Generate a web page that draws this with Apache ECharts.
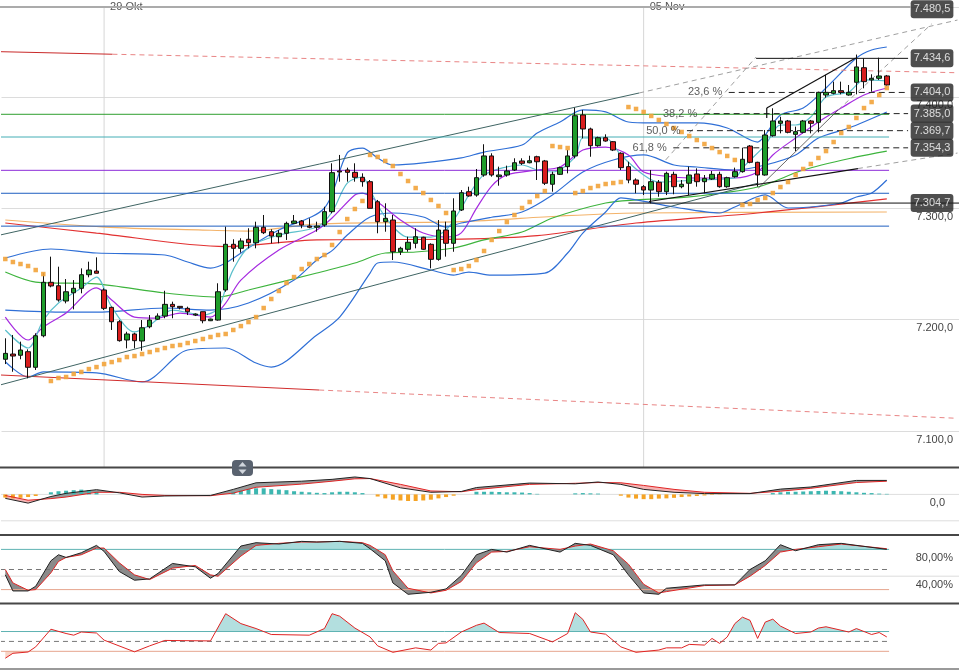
<!DOCTYPE html>
<html><head><meta charset="utf-8">
<script src="https://cdn.jsdelivr.net/npm/echarts@6/dist/echarts.min.js"></script>
<style>html,body{margin:0;padding:0;background:#fff}#c{width:959px;height:670px}</style>
</head><body><div id="c"></div>
<script>
// ---------- DATA ----------
const slotCount = 126;
const xTickLabels = [[13,'29 Okt'],[84,'05 Nov']];
// candles: [open, close, low, high]
const candles = [
[7164.5,7169.8,7160.2,7183.3],[7169.2,7167.4,7153.3,7186.3],[7168.1,7172.8,7164.5,7180.3],[7171.3,7157.3,7147.4,7173.4],
[7157.3,7185.6,7154.9,7187.8],[7185.6,7233.6,7184.2,7241.7],[7233.6,7230.3,7229.1,7256.6],[7230.5,7217.7,7216.2,7247.6],
[7216.8,7225.1,7214.7,7236.5],[7224.2,7228.2,7209.3,7235.6],[7228.2,7240.4,7223.7,7246.1],[7240.4,7244.6,7238.1,7252.1],
[7243.7,7241.7,7241.7,7256.0],[7226.7,7210.2,7208.7,7228.2],[7211.1,7198.2,7190.8,7211.7],[7198.2,7181.2,7180.3,7199.7],
[7181.8,7187.2,7174.3,7189.2],[7187.2,7181.2,7174.3,7188.3],[7180.9,7192.8,7172.2,7199.7],[7193.7,7199.7,7192.3,7204.2],
[7200.4,7203.3,7199.7,7205.7],[7203.3,7213.8,7201.3,7226.0],[7213.8,7211.7,7201.3,7216.2],[7212.0,7210.8,7209.3,7212.3],
[7210.2,7207.2,7204.2,7211.7],[7204.2,7205.1,7203.3,7205.7],[7207.2,7199.1,7196.8,7207.2],[7199.1,7200.6,7198.8,7200.9],
[7199.7,7225.1,7199.1,7232.7],[7226.7,7267.7,7225.1,7283.5],[7267.7,7264.1,7252.1,7272.2],[7264.1,7270.7,7260.2,7273.1],
[7272.2,7269.1,7264.1,7282.1],[7269.1,7283.0,7264.1,7288.0],[7283.0,7278.1,7276.9,7294.0],[7279.0,7275.1,7268.6,7281.2],
[7274.5,7277.6,7268.6,7280.5],[7277.6,7286.5,7271.6,7288.0],[7286.5,7288.6,7285.9,7294.0],[7288.6,7285.0,7282.1,7289.5],
[7284.1,7283.0,7282.1,7291.0],[7283.0,7284.1,7279.0,7288.0],[7285.0,7297.0,7283.5,7301.4],[7297.0,7332.0,7295.5,7340.4],
[7333.5,7332.6,7323.9,7347.9],[7334.4,7332.3,7323.9,7336.5],[7332.3,7327.8,7323.9,7340.4],[7327.8,7323.9,7319.4,7331.4],
[7323.9,7300.0,7300.0,7325.4],[7305.9,7288.0,7277.6,7307.5],[7288.0,7291.0,7279.0,7304.5],[7289.5,7261.0,7253.6,7294.0],
[7261.0,7264.1,7258.1,7265.5],[7263.2,7269.5,7261.0,7274.5],[7268.6,7274.5,7264.1,7282.1],[7274.0,7263.2,7262.6,7274.5],
[7267.7,7254.2,7246.1,7268.6],[7254.2,7280.5,7253.0,7289.5],[7280.5,7268.6,7256.6,7288.0],[7268.6,7297.6,7261.0,7309.0],
[7298.5,7314.0,7297.6,7316.4],[7314.9,7311.1,7310.4,7319.4],[7311.9,7327.5,7310.4,7335.3],[7329.9,7347.0,7328.4,7357.5],
[7347.0,7329.9,7328.4,7349.4],[7328.4,7329.9,7320.3,7337.4],[7329.9,7333.5,7328.4,7338.3],[7334.4,7340.9,7333.5,7344.9],
[7342.5,7340.4,7338.9,7344.9],[7340.9,7342.7,7340.4,7347.2],[7346.3,7341.8,7325.4,7347.2],[7342.5,7322.5,7320.9,7343.4],
[7321.6,7330.5,7314.9,7332.9],[7330.5,7336.5,7329.9,7337.4],[7337.4,7347.0,7331.4,7352.3],[7347.0,7383.1,7344.9,7390.3],
[7383.8,7371.2,7362.8,7388.3],[7371.2,7356.2,7346.3,7372.4],[7356.2,7363.4,7355.3,7364.3],[7363.4,7360.4,7359.8,7366.4],
[7359.8,7352.3,7351.4,7360.4],[7349.4,7336.5,7334.4,7350.3],[7337.4,7325.4,7322.5,7341.8],[7325.4,7321.6,7313.5,7326.9],
[7319.4,7316.4,7311.9,7320.9],[7316.4,7323.9,7304.5,7334.4],[7323.4,7314.9,7310.4,7325.4],[7314.9,7331.4,7311.9,7332.9],
[7330.5,7319.4,7312.6,7332.9],[7319.4,7321.6,7318.0,7325.4],[7322.5,7329.9,7311.9,7337.4],[7330.8,7323.9,7319.4,7335.9],
[7323.9,7326.9,7313.5,7329.9],[7326.3,7330.5,7325.4,7333.5],[7330.5,7319.4,7318.5,7332.9],[7319.4,7327.5,7318.5,7328.4],
[7328.4,7332.9,7327.5,7336.5],[7332.9,7344.0,7332.0,7354.4],[7355.9,7341.3,7340.4,7356.8],[7341.3,7329.9,7319.4,7341.8],
[7329.9,7365.8,7329.3,7370.3],[7365.2,7378.4,7364.3,7389.8],[7376.3,7378.4,7367.3,7382.2],[7378.4,7368.2,7367.3,7379.3],
[7366.4,7368.8,7351.4,7373.3],[7368.2,7378.4,7367.3,7379.3],[7378.4,7376.3,7367.3,7379.3],[7377.2,7404.1,7368.2,7404.7],
[7401.7,7404.1,7399.3,7419.7],[7403.2,7405.6,7402.3,7413.7],[7405.6,7404.1,7402.3,7413.7],[7401.7,7404.1,7401.1,7410.7],
[7413.1,7426.9,7402.3,7438.0],[7426.2,7413.7,7407.7,7434.6],[7415.2,7416.7,7404.7,7420.3],[7416.7,7418.8,7415.2,7435.2],
[7418.8,7410.7,7410.1,7419.7]
];
// parabolic SAR, one per candle
const sar = [7254.5,7251.8,7250.0,7248.2,7244.6,7241.0,
7145.0,7147.7,7148.6,7151.3,7153.1,7155.7,7157.5,7160.2,7162.0,7163.8,7166.5,7167.4,7169.2,7171.0,7172.8,7174.6,7176.4,7177.3,7179.1,7180.9,
7182.7,7184.5,7186.3,7187.2,7190.8,7194.3,7197.9,7202.4,7210.5,7218.6,7225.8,7233.0,7238.3,7245.5,7250.0,7254.5,7258.1,7267.1,7278.7,7290.4,7299.4,7306.6,
7347.9,7346.1,7342.5,7338.0,7330.8,7324.5,7318.2,7313.7,7307.5,7302.1,7295.8,
7244.6,7245.5,7248.2,7253.6,7261.7,7271.6,7279.6,7287.7,7294.0,7300.3,7305.7,7311.0,7315.5,
7355.9,7355.0,7354.1,
7313.7,7315.5,7318.2,7320.0,7321.8,7322.7,7323.6,
7390.9,7389.2,7386.5,7382.9,7379.3,7375.7,7372.1,7368.5,7364.9,7361.3,7357.7,7354.1,7350.5,7347.0,7343.4,
7303.0,7303.9,7307.5,7309.3,7313.7,7319.1,7323.6,7329.9,7335.3,7339.8,7345.2,7351.4,7359.5,7367.6,7373.0,7381.1,7390.0,7395.4,7401.7,7408.0];
// moving averages / bands as [candle index, price]
const maFast = [[0,7190.8],[3,7174.6],[5,7199.7],[7,7215.0],[10,7228.5],[12,7238.3],[14,7211.4],[17,7189.0],[19,7195.2],[22,7208.7],[26,7204.2],[28,7210],[29,7228],[30,7245],[32,7265],[36,7276.0],[41,7283.2],[43,7296.7],[45,7322.7],[47,7328.1],[48,7316.4],[50,7292.2],[53,7274.2],[56,7274.2],[58,7280.5],[60,7300],[61,7312],[63,7329.9],[68,7338.9],[70,7334.4],[72,7332.6],[75,7346.1],[76,7363.1],[79,7363.1],[81,7347.9],[84,7329.9],[86,7323.6],[91,7325.4],[96,7327.2],[97,7336.2],[100,7356.8],[102,7374.8],[104,7374.8],[106,7382.0],[108,7399.9],[111,7404.4],[113,7415.2],[116,7414.3]];
const maMid = [[0,7202.4],[3,7181.8],[5,7193.5],[8,7206.0],[12,7228.5],[14,7217.7],[17,7202.4],[20,7201.5],[23,7206.0],[27,7202.4],[29,7215],[31,7235.6],[36,7262.6],[41,7280.5],[43,7291.3],[46,7312.0],[47,7313.7],[49,7305.7],[52,7289.5],[55,7277.8],[58,7274.2],[60,7278],[62,7300],[64,7320],[66,7330],[70,7334.4],[73,7337.1],[76,7352.3],[79,7355.0],[82,7347.9],[84,7332.6],[88,7328.1],[91,7327.2],[96,7327.2],[99,7332.6],[101,7347.9],[104,7363.1],[107,7377.5],[110,7390.0],[113,7401.7],[116,7408.0]];
const bbUpper = [[0,7255.4],[6,7263.5],[12,7259.9],[21,7258.1],[24,7251.8],[27,7246.4],[29,7250.9],[33,7268.9],[36,7280.5],[42,7300.3],[45,7349.7],[47,7354.1],[49,7345.2],[51,7338.9],[55,7340.7],[60,7345.2],[63,7350.5],[68,7356.8],[70,7367.6],[73,7377.5],[76,7388.3],[79,7386.5],[82,7377.5],[85,7376.6],[91,7376.6],[95,7372.1],[99,7359.5],[100,7365.8],[102,7383.8],[105,7390.0],[108,7408.0],[112,7434.9],[114,7442.1],[116,7444.8]];
const bbMid = [[0,7208.7],[8,7206.9],[12,7206.9],[21,7210.5],[27,7208.7],[32,7215.0],[38,7235.6],[41,7253.6],[43,7262],[45,7276],[48,7292.2],[51,7295.8],[55,7292.2],[58,7283.2],[60,7286.8],[64,7292],[68,7296.7],[72,7312.0],[76,7332.6],[80,7343.4],[84,7347.9],[88,7338.9],[91,7337.1],[96,7334.4],[100,7338.9],[104,7347.9],[107,7363.1],[111,7372.1],[116,7386.5]];
const bbLower = [[0,7162.3],[3,7148.6],[5,7153.1],[12,7152.2],[18,7144.1],[24,7172.8],[29,7174.6],[33,7161.1],[35,7157.5],[41,7186.3],[44,7202.4],[48,7241.9],[49,7250.9],[51,7251.8],[56,7244.6],[59,7240.1],[61,7242.8],[64,7240.1],[71,7241.9],[74,7259.9],[76,7277.8],[79,7296.7],[81,7309.3],[83,7307.5],[88,7301.2],[94,7295.8],[96,7301.2],[100,7312.0],[103,7300.3],[106,7301.2],[110,7304.8],[112,7310.2],[114,7313.7],[116,7325.4]];
const maGreen = [[0,7242.8],[4,7233.8],[12,7232.1],[21,7224.0],[28,7220.4],[32,7226.7],[41,7241.9],[46,7250.9],[50,7259.9],[54,7260.8],[59,7264.4],[63,7271.6],[68,7278.7],[72,7291.3],[79,7304.8],[83,7307.5],[90,7310.2],[99,7319.1],[105,7334.4],[112,7346.1],[116,7351.4]];
const maRed = [[0,7286.8],[12,7277.8],[29,7265.7],[41,7271.6],[60,7272.4],[70,7275.5],[83,7286.8],[99,7295.8],[116,7308.4]];
const maOrange = [[0,7289.5],[13,7283.2],[26,7280.5],[32,7279.6],[41,7285.9],[60,7288.0],[73,7293.1],[83,7295.8],[116,7296.7]];
// horizontal levels
const levelGreen = 7384.4, levelTeal = 7364.0, levelPurple = 7334.1, levelBlue1 = 7313.5, levelBlue2 = 7284.0;
const fibHigh = 7434.6, fibLow = 7304.7;
const fibNames = ['23,6 %','38,2 %','50,0 %','61,8 %'];
const fibValues = [7404.0, 7385.0, 7369.7, 7354.3];
const fibStartIdx = [95.2, 91.9, 89.7, 87.9];
// price tags: [shown value, price where the tag sits]
const priceTags = [[7480.5,7478.6],[7434.6,7434.6],[7404.0,7404.0],[7385.0,7385.0],[7369.7,7369.7],[7354.3,7354.3],[7304.7,7304.7]];
// trend lines [index, price]
const redTopSolid = [[-0.7,7440.6],[14.1,7438.3]];
const redTopDash = [[14.1,7438.3],[125.3,7421.7]];
const redBotSolid = [[-0.7,7150.4],[41.3,7136.9]];
const redBotDash = [[41.3,7136.9],[125.3,7111.5]];
const chanUpper = [[-0.7,7276.0],[83.4,7403.5]];
const chanUpperExt = [[83.4,7403.5],[125.3,7469.0]];
const chanLower = [[-0.7,7141.4],[99.1,7322.7]];
const supportLine = [[84.7,7306.1],[112.2,7335.7]];
const supportExt = [[112.2,7335.7],[125.3,7349.6]];
const wedgeUpper = [[100.2,7390.0],[111.9,7434.9]];
const wedgeTick = [[100.2,7390.0],[100.2,7381.0]];
const wedgeLower = [[99.1,7318.2],[109.6,7388.3]];
const wedgeLowerExt = [[109.6,7388.3],[121.9,7465.5]];
const fanLine = [[86.9,7343.4],[98.8,7435.8]];
// MACD
const macdIdx = [0,3,6,8,12,15,18,21,27,30,33,39,43,46,48,52,56,60,62,69,75,78,81,84,88,92,98,102,106,112,116];
const macdLine = [-1.5,-3.3,-0.8,0.4,1.8,0.6,-1.0,-0.6,-0.4,1.9,4.4,5.0,5.7,6.6,6.0,2.5,0.8,1.1,2.6,4.3,4.0,4.7,3.8,1.9,0.8,0.3,0.3,2.0,2.8,5.3,5.3];
const macdSignal = [-0.4,-2.2,-1.6,-1.0,0.8,0.8,0,-0.4,-0.5,0.5,2.7,3.9,5.0,5.9,6.0,3.8,1.3,1.0,1.8,3.8,4.2,4.5,4.4,3.4,1.9,0.8,0.4,1.2,2.3,4.5,5.0];
const macdHist = [-1.2,-1.5,-1.3,-1.0,-0.6,0,0.8,1.2,1.4,1.6,1.8,1.6,1.0,
0,0,0,0,0,0,0,0,0,0,0,0,0,0,0,0,0,
1.0,1.5,2.0,2.3,2.3,2.0,1.8,1.6,1.2,1.0,0.8,0.6,0.5,0.8,1.0,1.0,0.8,0.5,0,
-0.8,-1.5,-2.0,-2.3,-2.5,-2.5,-2.3,-2.0,-1.5,-1.0,-0.5,0,0,
1.0,1.0,1.0,0.9,0.8,0.8,0.7,0.5,0.2,0,0,0,0,0.4,0.5,0.4,0.3,0,0,
-0.5,-1.2,-1.6,-1.8,-1.8,-1.6,-1.5,-1.3,-1.0,-0.8,-0.6,-0.4,-0.2,-0.1,0,0,0,0,0,0,
0.5,0.8,1.0,1.0,1.1,1.2,1.3,1.4,1.3,1.2,1.0,0.8,0.6,0.5,0.3,0.2];
// Stochastic
const stoIdx = [0,1,3,4,6,7,8,10,12,13,15,17,19,22,25,27,28,31,33,36,39,41,44,47,48,50,51,53,56,58,60,62,64,66,69,73,75,77,80,82,84,86,87,92,96,98,100,102,104,107,110,116];
const stoK = [42,18,18,25,63,72,68,75,86,77,47,34,36,59,54,37,44,85,90,88,92,91,92,89,81,63,30,13,16,21,41,72,80,76,86,76,89,86,72,42,15,13,22,27,27,50,63,87,78,87,89,80];
const stoD = [50,30,19,20,45,62,68,72,82,82,60,42,35,52,56,42,40,70,86,89,91,91,92,90,86,72,48,22,15,19,32,60,76,77,84,80,85,88,78,58,28,15,17,26,27,40,56,76,80,84,88,81];
// lower oscillator
const rsiIdx = [0,1,3,4,6,8,9,10,12,13,17,19,21,27,29,31,33,35,40,42,43,44,46,48,49,51,54,56,57,58,60,62,63,65,69,72,74,75,76,77,79,81,83,86,87,89,90,92,93,94,95,96,97,98,99,100,101,102,104,106,107,108,111,112,114,115,116];
const rsiVal = [16,26,28.6,39,74.6,66,62.6,69,67,52.6,29,41,52,51,106,86,76,64,62.6,76,106,101,77,59,41,28,37,32.6,46,47,69,82.6,87,68,66,49,66,108,94.6,69,64.6,39,28,32.6,37,37,44,42.6,56,46,59,86,99,92.6,56,89,95,81,66,69,77,79.6,69,76,64,68,59];

// ---------- BUILD ----------
const FONT = "'Liberation Sans', Arial, sans-serif";
const categories = Array.from({length: slotCount}, (_, i) => {
  const t = xTickLabels.find(d => d[0] === i); return t ? t[1] : '';
});
function fmt(v){ const s = v.toFixed(1).split('.'); return s[0].replace(/\B(?=(\d{3})+(?!\d))/g,'.') + ',' + s[1]; }
const VX = {min:-0.5, max:slotCount-0.5};
const LASTX = 116.3, FIBEND = 118.8, FULLX = 125.5;

function seg(pts, color, width, type, xi, yi, z){
  return {type:'line', xAxisIndex:xi===undefined?1:xi, yAxisIndex:yi||0, data:pts, symbol:'none', silent:true,
    z:z||4, lineStyle:{color, width, type:type||'solid'}};
}
function curve(pts, color, width, smooth){
  return {type:'line', xAxisIndex:1, yAxisIndex:0, data:pts, symbol:'none', silent:true, z:3,
    smooth: smooth===undefined?0.3:smooth, lineStyle:{color, width}};
}
function densify(xs, a, b){
  const X=[], A=[], B=[];
  for (let i=0;i<xs.length;i++){
    if (i>0){
      const d0 = a[i-1]-b[i-1], d1 = a[i]-b[i];
      if (d0*d1 < 0){
        const t = d0/(d0-d1);
        X.push(xs[i-1]+t*(xs[i]-xs[i-1]));
        const v = a[i-1]+t*(a[i]-a[i-1]);
        A.push(v); B.push(v);
      }
    }
    X.push(xs[i]); A.push(a[i]); B.push(b[i]);
  }
  return {X, A, B};
}
function fillAbove(xi, yi, xs, a, b, color){
  const d = densify(xs, a, b);
  return {type:'custom', xAxisIndex:xi, yAxisIndex:yi, data:[[0,0]], silent:true, z:2,
    renderItem:(params, api) => {
      const pts = [];
      for (let i=0;i<d.X.length;i++) pts.push(api.coord([d.X[i], Math.max(d.A[i], d.B[i])]));
      for (let i=d.X.length-1;i>=0;i--) pts.push(api.coord([d.X[i], d.B[i]]));
      return {type:'polygon', shape:{points:pts}, style:{fill:color}};
    }};
}
function fillBetween(xi, yi, xs, a, b, color){
  return {type:'custom', xAxisIndex:xi, yAxisIndex:yi, data:[[0,0]], silent:true, z:2,
    renderItem:(params, api) => {
      const pts = [];
      for (let i=0;i<xs.length;i++) pts.push(api.coord([xs[i], a[i]]));
      for (let i=xs.length-1;i>=0;i--) pts.push(api.coord([xs[i], b[i]]));
      return {type:'polygon', shape:{points:pts}, style:{fill:color}};
    }};
}

const series = [];
xTickLabels.forEach(t => series.push(seg([[t[0],7000],[t[0],7500]], '#d6d6d6', 1, 'solid', 1, 0, 1)));
series.push(seg(redTopSolid, '#c92a2a', 1));
series.push(seg(redTopDash, '#e98585', 1, [5,4]));
series.push(seg(redBotSolid, '#d12c2c', 1));
series.push(seg(redBotDash, '#e98585', 1, [5,4]));
series.push(seg(chanUpper, '#3f6463', 1));
series.push(seg(chanUpperExt, '#a0a0a0', 1, [5,4]));
series.push(seg(chanLower, '#3f6463', 1));
series.push(seg(fanLine, '#a0a0a0', 1, [5,4]));
series.push(seg(wedgeLowerExt, '#a0a0a0', 1, [5,4]));
series.push(seg(supportExt, '#a0a0a0', 1, [5,4]));
series.push(seg([[-0.7,levelGreen],[LASTX,levelGreen]], '#2f9e2f', 1));
series.push(seg([[-0.7,levelTeal],[LASTX,levelTeal]], '#45aeb5', 1));
series.push(seg([[-0.7,levelPurple],[LASTX,levelPurple]], '#8c2bd8', 1));
series.push(seg([[-0.7,levelBlue1],[LASTX,levelBlue1]], '#1f5fc0', 1));
series.push(seg([[-0.7,levelBlue2],[LASTX,levelBlue2]], '#1f5fc0', 1));
series.push(seg([[82.0,fibLow],[FULLX,fibLow]], '#111', 1));
series.push(seg([[98.8,fibHigh],[FIBEND,fibHigh]], '#111', 1));
fibValues.forEach((v,i) => series.push(seg([[fibStartIdx[i],v],[FIBEND,v]], '#222', 1, [6,4])));
series.push(curve(maOrange, '#f3b36a', 1.2));
series.push(curve(maRed, '#e23131', 1.2));
series.push(curve(maGreen, '#3db43d', 1.2));
series.push(curve(bbLower, '#2f6fd6', 1.2));
series.push(curve(bbMid, '#2f6fd6', 1.2));
series.push(curve(bbUpper, '#2f6fd6', 1.2));
series.push(curve(maMid, '#a62be0', 1.2));
series.push(curve(maFast, '#5cc0cc', 1.2));
series.push(seg(supportLine, '#111', 1.2));
series.push(seg(wedgeUpper, '#111', 1.2));
series.push(seg(wedgeTick, '#111', 1.2));
series.push(seg(wedgeLower, '#444', 0.8));
series.push({type:'candlestick', xAxisIndex:0, yAxisIndex:0, data:candles, barWidth:5, silent:true, z:6,
  itemStyle:{color:'#1f9d2b', color0:'#d81e1e', borderColor:'#111', borderColor0:'#111', borderWidth:1}});
series.push({type:'scatter', xAxisIndex:0, yAxisIndex:0, data:sar, symbol:'rect', symbolSize:4.5, silent:true, z:7,
  itemStyle:{color:'#f2a33a', opacity:0.9}});
series.push({type:'scatter', xAxisIndex:1, yAxisIndex:0, data: fibValues.map((v,i)=>[fibStartIdx[i], v, fibNames[i]]),
  symbolSize:1, itemStyle:{color:'rgba(0,0,0,0)'}, silent:true, z:8,
  label:{show:true, position:'left', distance:6, formatter:p=>p.value[2], color:'#333', fontSize:11, fontFamily:FONT}});
series.push({type:'scatter', xAxisIndex:1, yAxisIndex:0, data: priceTags.map(t=>[121.95, t[1], t[0]]),
  symbolSize:1, itemStyle:{color:'rgba(0,0,0,0)'}, silent:true, z:20,
  label:{show:true, position:'inside', formatter:p=>fmt(p.value[2]), color:'#fff', backgroundColor:'#222',
    borderRadius:3, padding:[3,3,3,3], fontSize:11, lineHeight:12, fontFamily:FONT}});

// ----- MACD panel -----
series.push(seg([[-0.7,0],[FULLX,0]], '#dedede', 1, 'solid', 2, 1, 1));
series.push(seg([[-0.7,-10],[FULLX,-10]], '#dedede', 1, 'solid', 2, 1, 1));
series.push({type:'bar', xAxisIndex:2, yAxisIndex:1, barWidth:4, silent:true, z:2,
  data: macdHist.map((v,i)=>({value:[i,v], itemStyle:{color: v>=0 ? '#3cb6b0' : '#f5a324'}}))});
series.push(fillAbove(2,1,macdIdx, macdLine, macdSignal, '#9a9a9a'));
series.push(fillAbove(2,1,macdIdx, macdSignal, macdLine, '#f6b3b3'));
series.push({type:'line', xAxisIndex:2, yAxisIndex:1, data: macdIdx.map((x,i)=>[x, macdSignal[i]]), symbol:'none', silent:true, z:4, lineStyle:{color:'#e02424', width:1}});
series.push({type:'line', xAxisIndex:2, yAxisIndex:1, data: macdIdx.map((x,i)=>[x, macdLine[i]]), symbol:'none', silent:true, z:4, lineStyle:{color:'#222', width:1}});

// ----- Stochastic panel -----
series.push(seg([[-0.7,40],[FULLX,40]], '#dcdcdc', 1, 'solid', 3, 2, 1));
series.push(fillAbove(3,2,stoIdx, stoK, stoIdx.map(()=>80), '#a9dcdc'));
series.push(fillAbove(3,2,stoIdx, stoIdx.map(()=>20), stoK, '#f7cdbd'));
series.push(fillBetween(3,2,stoIdx, stoK, stoD, '#8a8a8a'));
series.push(seg([[-0.7,80],[LASTX,80]], '#5fb3b3', 1, 'solid', 3, 2, 3));
series.push(seg([[-0.7,50],[LASTX,50]], '#777', 1, [5,4], 3, 2, 3));
series.push(seg([[-0.7,20],[LASTX,20]], '#e6a58e', 1, 'solid', 3, 2, 3));
series.push({type:'line', xAxisIndex:3, yAxisIndex:2, data: stoIdx.map((x,i)=>[x, stoD[i]]), symbol:'none', silent:true, z:4, lineStyle:{color:'#e02424', width:1}});
series.push({type:'line', xAxisIndex:3, yAxisIndex:2, data: stoIdx.map((x,i)=>[x, stoK[i]]), symbol:'none', silent:true, z:4, lineStyle:{color:'#222', width:1}});

// ----- lower oscillator panel -----
series.push(fillAbove(4,3,rsiIdx, rsiVal, rsiIdx.map(()=>70), '#b3dfdf'));
series.push(fillAbove(4,3,rsiIdx, rsiIdx.map(()=>30), rsiVal, '#f8d3c5'));
series.push(seg([[-0.7,70],[LASTX,70]], '#5fb3b3', 1, 'solid', 4, 3, 3));
series.push(seg([[-0.7,50],[LASTX,50]], '#777', 1, [5,4], 4, 3, 3));
series.push(seg([[-0.7,30],[LASTX,30]], '#e6a58e', 1, 'solid', 4, 3, 3));
series.push({type:'line', xAxisIndex:4, yAxisIndex:3, data: rsiIdx.map((x,i)=>[x, rsiVal[i]]), symbol:'none', silent:true, z:4, lineStyle:{color:'#e02424', width:1}});

const gridBase = {left:1.5, width:959.5};
const hiddenX = gi => Object.assign({type:'value', gridIndex:gi, show:false}, VX);
const labelBase = {inside:true, color:'#444', fontSize:11, fontFamily:FONT, verticalAlign:'top', padding:[3,0,0,0], margin:6};

const option = {
  animation:false,
  backgroundColor:'#fff',
  grid:[
    Object.assign({top:7, height:460}, gridBase),
    Object.assign({top:468, height:66}, gridBase),
    Object.assign({top:536, height:67}, gridBase),
    Object.assign({top:604, height:64}, gridBase)
  ],
  xAxis:[
    {type:'category', gridIndex:0, data:categories, position:'top', boundaryGap:true,
      axisLine:{show:false}, axisTick:{show:false}, splitLine:{show:false},
      axisLabel:{interval:(i)=>categories[i] !== '', align:'left', padding:[0,0,0,6], margin:-5,
        color:'#555', fontSize:11, fontFamily:FONT}},
    hiddenX(0), hiddenX(1), hiddenX(2), hiddenX(3)
  ],
  yAxis:[
    {type:'value', gridIndex:0, position:'right', min:7067.8, max:7480.7, splitNumber:5,
      axisLine:{show:false}, axisTick:{show:false},
      splitLine:{show:true, lineStyle:{color:'#dcdcdc'}},
      axisLabel:Object.assign({formatter:v=>fmt(v), showMinLabel:false, showMaxLabel:false}, labelBase)},
    {type:'value', gridIndex:1, position:'right', min:-15, max:10, interval:5,
      axisLine:{show:false}, axisTick:{show:false}, splitLine:{show:false},
      axisLabel:Object.assign({}, labelBase, {formatter:v=>v===0?'0,0':'', margin:14})},
    {type:'value', gridIndex:2, position:'right', min:0, max:100, interval:20,
      axisLine:{show:false}, axisTick:{show:false}, splitLine:{show:false},
      axisLabel:Object.assign({}, labelBase, {formatter:v=>v===80?'80,00%':(v===40?'40,00%':'')})},
    {type:'value', gridIndex:3, position:'right', min:-3.7, max:125.6,
      axisLine:{show:false}, axisTick:{show:false}, splitLine:{show:false}, axisLabel:{show:false}}
  ],
  series,
  graphic:[
    {type:'line', shape:{x1:0,y1:7,x2:911,y2:7}, style:{stroke:'#ababab', lineWidth:2}, z:100},
    {type:'line', shape:{x1:0,y1:467.5,x2:959,y2:467.5}, style:{stroke:'#474747', lineWidth:2}, z:100},
    {type:'line', shape:{x1:0,y1:535,x2:959,y2:535}, style:{stroke:'#474747', lineWidth:2}, z:100},
    {type:'line', shape:{x1:0,y1:603.5,x2:959,y2:603.5}, style:{stroke:'#474747', lineWidth:2}, z:100},
    {type:'line', shape:{x1:0,y1:669,x2:959,y2:669}, style:{stroke:'#9a9a9a', lineWidth:2}, z:100},
    {type:'rect', shape:{x:232,y:460,width:21,height:16,r:4}, style:{fill:'#59626f'}, z:101},
    {type:'polygon', shape:{points:[[242.5,462],[238.5,466.5],[246.5,466.5]]}, style:{fill:'#d0d5dc'}, z:102},
    {type:'polygon', shape:{points:[[242.5,474],[238.5,469.5],[246.5,469.5]]}, style:{fill:'#d0d5dc'}, z:102}
  ]
};
const chart = echarts.init(document.getElementById('c'));
chart.setOption(option);
</script>
</body></html>
